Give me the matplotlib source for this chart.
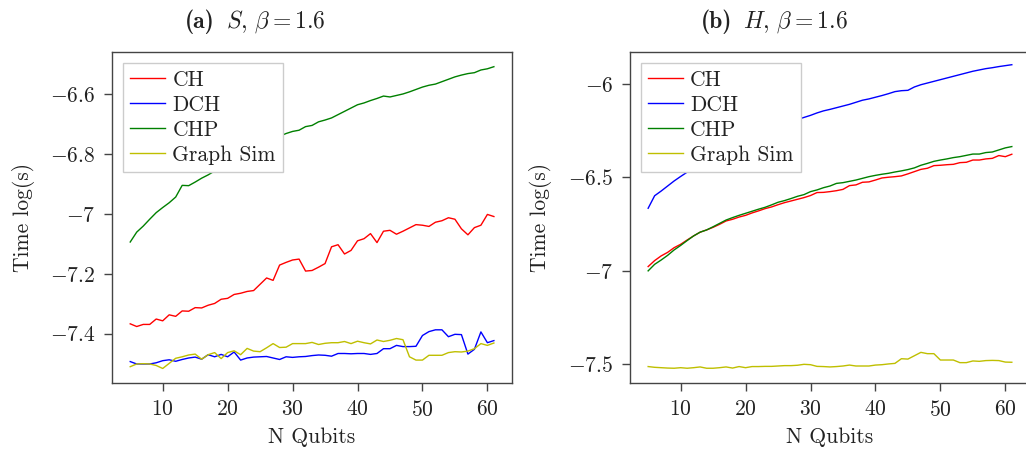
import numpy as np
import matplotlib
matplotlib.use('Agg')
import matplotlib.pyplot as plt
from matplotlib.ticker import FuncFormatter

plt.rcParams['font.family'] = ['cmr10', 'DejaVu Serif']
plt.rcParams['mathtext.fontset'] = 'cm'
plt.rcParams['axes.formatter.use_mathtext'] = True

n_qubits = np.arange(5, 62)

# (a) S, beta = 1.6
s_ch = [-7.367, -7.376, -7.369, -7.369, -7.351, -7.357, -7.337, -7.342, -7.324, -7.325,
        -7.313, -7.314, -7.305, -7.299, -7.285, -7.282, -7.269, -7.265, -7.259, -7.256,
        -7.235, -7.214, -7.222, -7.171, -7.162, -7.154, -7.151, -7.191, -7.189, -7.178,
        -7.166, -7.110, -7.103, -7.134, -7.122, -7.090, -7.083, -7.066, -7.096, -7.058,
        -7.055, -7.068, -7.058, -7.047, -7.036, -7.038, -7.042, -7.028, -7.023, -7.013,
        -7.018, -7.050, -7.070, -7.046, -7.038, -7.002, -7.009]
s_dch = [-7.493, -7.501, -7.501, -7.501, -7.497, -7.490, -7.487, -7.492, -7.486, -7.481,
         -7.478, -7.485, -7.470, -7.477, -7.469, -7.477, -7.461, -7.488, -7.481, -7.478,
         -7.477, -7.476, -7.481, -7.486, -7.477, -7.479, -7.477, -7.476, -7.473, -7.471,
         -7.472, -7.475, -7.466, -7.466, -7.467, -7.466, -7.466, -7.469, -7.466, -7.450,
         -7.450, -7.439, -7.443, -7.443, -7.442, -7.406, -7.393, -7.387, -7.387, -7.410,
         -7.402, -7.403, -7.468, -7.452, -7.394, -7.430, -7.423]
s_chp = [-7.094, -7.061, -7.041, -7.018, -6.996, -6.979, -6.963, -6.944, -6.905, -6.906,
         -6.894, -6.881, -6.870, -6.857, -6.846, -6.833, -6.820, -6.808, -6.796, -6.784,
         -6.773, -6.762, -6.751, -6.741, -6.732, -6.725, -6.721, -6.709, -6.705, -6.693,
         -6.687, -6.680, -6.669, -6.658, -6.647, -6.636, -6.630, -6.622, -6.615, -6.607,
         -6.610, -6.605, -6.600, -6.593, -6.585, -6.577, -6.571, -6.567, -6.559, -6.551,
         -6.543, -6.537, -6.532, -6.529, -6.520, -6.516, -6.509]
s_graph = [-7.510, -7.501, -7.500, -7.501, -7.506, -7.516, -7.499, -7.482, -7.477, -7.471,
           -7.468, -7.485, -7.470, -7.463, -7.483, -7.463, -7.457, -7.470, -7.449, -7.458,
           -7.460, -7.447, -7.433, -7.446, -7.445, -7.433, -7.433, -7.433, -7.429, -7.436,
           -7.432, -7.430, -7.430, -7.426, -7.433, -7.425, -7.430, -7.434, -7.421, -7.426,
           -7.422, -7.416, -7.420, -7.477, -7.488, -7.488, -7.472, -7.472, -7.472, -7.463,
           -7.460, -7.461, -7.458, -7.450, -7.433, -7.439, -7.431]

# (b) H, beta = 1.6
h_ch = [-6.977, -6.945, -6.920, -6.901, -6.876, -6.858, -6.835, -6.813, -6.793, -6.781,
        -6.767, -6.751, -6.733, -6.724, -6.712, -6.703, -6.690, -6.679, -6.667, -6.658,
        -6.646, -6.635, -6.626, -6.617, -6.608, -6.597, -6.581, -6.580, -6.576, -6.571,
        -6.564, -6.544, -6.540, -6.526, -6.524, -6.514, -6.503, -6.499, -6.496, -6.492,
        -6.481, -6.469, -6.457, -6.451, -6.437, -6.435, -6.432, -6.430, -6.421, -6.419,
        -6.407, -6.407, -6.401, -6.398, -6.383, -6.389, -6.376]
h_dch = [-6.665, -6.598, -6.573, -6.546, -6.519, -6.495, -6.472, -6.449, -6.427, -6.406,
         -6.386, -6.367, -6.349, -6.331, -6.314, -6.298, -6.282, -6.267, -6.253, -6.239,
         -6.226, -6.213, -6.201, -6.190, -6.179, -6.168, -6.155, -6.144, -6.136, -6.127,
         -6.118, -6.109, -6.098, -6.087, -6.080, -6.071, -6.062, -6.052, -6.041, -6.036,
         -6.034, -6.016, -6.004, -5.995, -5.986, -5.977, -5.968, -5.959, -5.950, -5.941,
         -5.932, -5.925, -5.918, -5.913, -5.907, -5.902, -5.897]
h_chp = [-7.000, -6.965, -6.942, -6.917, -6.888, -6.864, -6.838, -6.813, -6.793, -6.781,
         -6.764, -6.746, -6.728, -6.715, -6.703, -6.692, -6.681, -6.670, -6.660, -6.647,
         -6.633, -6.624, -6.613, -6.601, -6.592, -6.576, -6.567, -6.555, -6.546, -6.532,
         -6.528, -6.521, -6.514, -6.505, -6.496, -6.489, -6.483, -6.478, -6.471, -6.465,
         -6.458, -6.449, -6.435, -6.425, -6.414, -6.407, -6.401, -6.394, -6.389, -6.382,
         -6.375, -6.375, -6.367, -6.364, -6.353, -6.342, -6.335]
h_graph = [-7.512, -7.516, -7.518, -7.520, -7.521, -7.518, -7.521, -7.518, -7.514, -7.521,
           -7.521, -7.518, -7.514, -7.520, -7.512, -7.518, -7.512, -7.512, -7.511, -7.511,
           -7.509, -7.507, -7.507, -7.505, -7.500, -7.502, -7.511, -7.512, -7.514, -7.512,
           -7.509, -7.504, -7.509, -7.509, -7.509, -7.504, -7.502, -7.498, -7.495, -7.470,
           -7.472, -7.454, -7.436, -7.443, -7.443, -7.477, -7.477, -7.477, -7.491, -7.491,
           -7.482, -7.484, -7.480, -7.479, -7.480, -7.488, -7.489]

labels = ['CH', 'DCH', 'CHP', 'Graph Sim']
colors = ['r', 'b', 'g', 'y']
x_ticks = [10, 20, 30, 40, 50, 60]
s_yticks = [-7.4, -7.2, -7.0, -6.8, -6.6]
h_yticks = [-7.5, -7.0, -6.5, -6.0]


def fmt(v, pos):
    return '$%g$' % v


fig = plt.figure(figsize=(10.26, 4.53), dpi=100)
ax1 = fig.add_axes([0.1092, 0.1545, 0.3899, 0.7307])
ax2 = fig.add_axes([0.6140, 0.1545, 0.3899, 0.7307])

panels = [
    (ax1, [s_ch, s_dch, s_chp, s_graph], s_yticks, (-7.5645, -6.46)),
    (ax2, [h_ch, h_dch, h_chp, h_graph], h_yticks, (-7.60, -5.829)),
]

for ax, series, yticks, ylim in panels:
    for ys, lab, c in zip(series, labels, colors):
        ax.plot(n_qubits, ys, color=c, lw=1.0, label=lab)
    ax.set_xlim(2.2, 63.8)
    ax.set_ylim(*ylim)
    ax.set_xticks(x_ticks)
    ax.set_yticks(yticks)
    ax.xaxis.set_major_formatter(FuncFormatter(fmt))
    ax.yaxis.set_major_formatter(FuncFormatter(fmt))
    ax.tick_params(direction='out', length=6, width=1, colors='#444444',
                   labelcolor='#222222', labelsize=15.5, pad=6,
                   top=False, right=False)
    for sp in ax.spines.values():
        sp.set_color('#444444')
        sp.set_linewidth(1.0)
    ax.set_xlabel('N Qubits', fontsize=15.5, color='#222222')
    ax.set_ylabel('Time log(s)', fontsize=15.5, color='#222222')
    ax.xaxis.set_label_coords(0.5, -0.163)
    ax.xaxis.label.set_va('center')
    ax.yaxis.set_label_coords(-0.2225, 0.5)
    ax.yaxis.label.set_va('center')
    leg = ax.legend(loc='upper left', fontsize=15.5, fancybox=False, framealpha=1,
                    edgecolor='#cccccc', borderaxespad=0.5, borderpad=0.35,
                    handlelength=1.6, handletextpad=0.35, labelspacing=0.25)
    leg.get_frame().set_linewidth(1.0)
    for t in leg.get_texts():
        t.set_color('#222222')

# subfigure captions: bold tag + math part
fig.text(0.2096, 0.938, '(a)', family='cmb10', fontsize=17, ha='right', va='baseline',
         color='#222222')
fig.text(0.2203, 0.938, r'$S,\, \beta = 1.6$', fontsize=17, ha='left', va='baseline',
         color='#222222')
fig.text(0.7135, 0.938, '(b)', family='cmb10', fontsize=17, ha='right', va='baseline',
         color='#222222')
fig.text(0.7242, 0.938, r'$H,\, \beta = 1.6$', fontsize=17, ha='left', va='baseline',
         color='#222222')

plt.savefig('out.png', dpi=100)
